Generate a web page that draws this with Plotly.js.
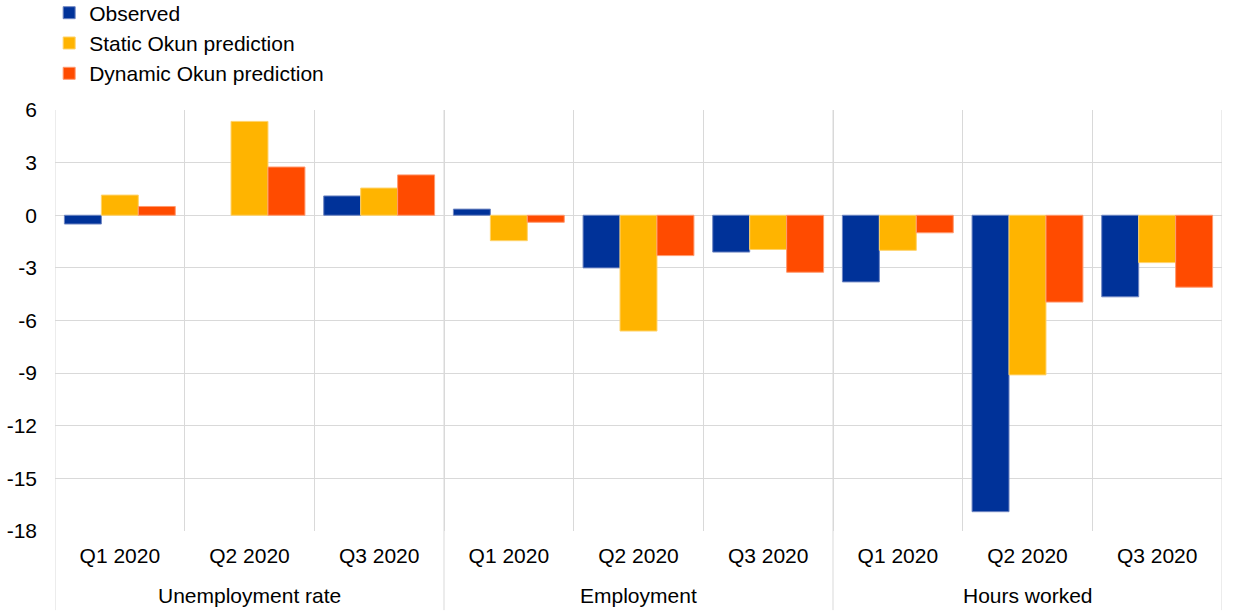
<!DOCTYPE html>
<html>
<head>
<meta charset="utf-8">
<script src="https://cdn.plot.ly/plotly-3.0.1.min.js"></script>
<style>html,body{margin:0;padding:0;background:#fff;}#chart{width:1240px;height:615px;}</style>
</head>
<body>
<div id="chart"></div>
<script>
const groupNames = ["Unemployment rate", "Employment", "Hours worked"];
const quarters = ["Q1 2020","Q2 2020","Q3 2020","Q1 2020","Q2 2020","Q3 2020","Q1 2020","Q2 2020","Q3 2020"];
const observed = [-0.5, null, 1.1, 0.35, -3.0, -2.1, -3.8, -16.9, -4.65];
const staticOkun = [1.15, 5.35, 1.55, -1.45, -6.6, -1.95, -2.0, -9.1, -2.7];
const dynamicOkun = [0.5, 2.75, 2.3, -0.4, -2.3, -3.25, -1.0, -4.95, -4.1];
const yTicks = [6, 3, 0, -3, -6, -9, -12, -15, -18];

const xIdx = quarters.map((q, i) => i);
const perGroup = quarters.length / groupNames.length;
const font = {family: "Liberation Sans, Arial, sans-serif", size: 21, color: "#000"};
const grid = "#d9d9d9";

function tr(name, y, color, lineColor) {
  return {type: "bar", name: name, x: xIdx, y: y,
    marker: {color: color, line: {color: lineColor, width: 1}}};
}
const data = [
  tr("Observed", observed, "#003299", "#6f86c2"),
  tr("Static Okun prediction", staticOkun, "#FFB400", "#ffd36a"),
  tr("Dynamic Okun prediction", dynamicOkun, "#FF4B00", "#ff9a70")
];

const shapes = [];
for (let g = 0; g <= groupNames.length; g++) {
  shapes.push({type: "line", xref: "x", yref: "paper",
    x0: g * perGroup - 0.5, x1: g * perGroup - 0.5, y0: -0.188, y1: 1,
    line: {color: grid, width: 1}});
}
const annotations = groupNames.map((name, g) => ({
  xref: "x", yref: "paper", x: g * perGroup + (perGroup - 1) / 2, y: -0.154,
  xanchor: "center", yanchor: "middle", text: name, showarrow: false, font: font
}));

const layout = {
  width: 1240, height: 615,
  margin: {l: 55, r: 18, t: 110, b: 84, autoexpand: false},
  paper_bgcolor: "#fff", plot_bgcolor: "#fff",
  font: font,
  barmode: "group", bargap: 0.145, bargroupgap: 0,
  showlegend: true,
  legend: {x: -0.005, y: 1.279, xanchor: "left", yanchor: "top", font: font,
    bgcolor: "rgba(0,0,0,0)", tracegroupgap: 0, itemwidth: 30},
  xaxis: {type: "linear", range: [-0.5, quarters.length - 0.5],
    tickvals: xIdx, ticktext: quarters, showgrid: false, ticks: "",
    tickfont: font, ticklabelstandoff: 10, zeroline: false, showline: false,
    minor: {tick0: -0.5, dtick: 1, showgrid: true, gridcolor: grid, gridwidth: 1, ticks: ""}},
  yaxis: {range: [-18, 6], tickvals: yTicks, ticktext: yTicks.map(String),
    showgrid: true, gridcolor: grid, gridwidth: 1, zeroline: true,
    zerolinecolor: grid, zerolinewidth: 1, ticks: "", tickfont: font,
    ticklabelstandoff: 17, showline: false},
  shapes: shapes,
  annotations: annotations
};
Plotly.newPlot("chart", data, layout, {displayModeBar: false, staticPlot: true});
</script>
</body>
</html>
